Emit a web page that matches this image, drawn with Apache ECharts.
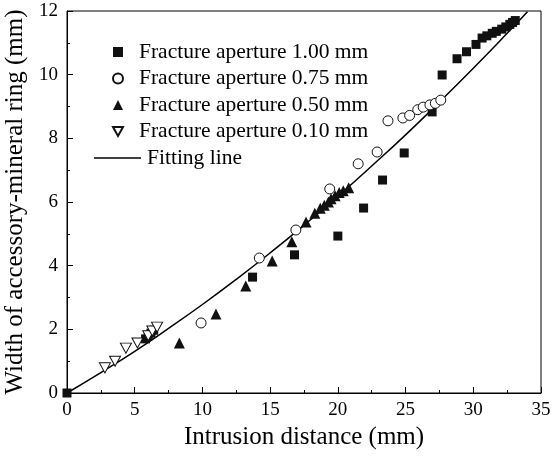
<!DOCTYPE html>
<html>
<head>
<meta charset="utf-8">
<script src="https://cdn.jsdelivr.net/npm/echarts@6/dist/echarts.min.js"></script>
<style>html,body{margin:0;padding:0;background:#fff;}#c{width:553px;height:457px;}</style>
</head>
<body>
<div id="c"></div>
<script>
// Fracture aperture 1.00 mm
const sq = [[0,0],[5.8,1.7],[6.0,1.8],[6.2,1.88],[6.4,1.97],[13.7,3.64],[16.8,4.34],[20.0,4.93],[21.9,5.81],[23.3,6.69],[24.9,7.54],[26.96,8.83],[27.7,9.99],[28.8,10.5],[29.5,10.72],[30.2,10.95],[30.65,11.15],[31.0,11.22],[31.4,11.3],[31.7,11.36],[32.1,11.43],[32.4,11.5],[32.7,11.58],[32.9,11.64],[33.1,11.7]];
// Fracture aperture 0.75 mm
const circ = [[9.9,2.2],[14.2,4.24],[16.9,5.12],[19.4,6.41],[21.5,7.2],[22.9,7.57],[23.7,8.55],[24.8,8.64],[25.3,8.72],[25.9,8.9],[26.3,8.98],[26.8,9.05],[27.2,9.1],[27.6,9.2]];
// Fracture aperture 0.50 mm
const tri = [[8.3,1.57],[11.0,2.48],[13.2,3.36],[15.15,4.15],[16.6,4.75],[17.65,5.37],[18.3,5.65],[18.7,5.8],[19.0,5.9],[19.3,6.0],[19.5,6.1],[19.8,6.2],[20.1,6.3],[20.4,6.35],[20.8,6.45]];
// Fracture aperture 0.10 mm
const itri = [[2.8,0.79],[3.55,1.0],[4.35,1.41],[5.2,1.57],[6.0,1.8],[6.3,1.95],[6.65,2.07]];
// Fitting line
const fitX = [0,2.5,5,7.5,10,12.5,15,17.5,20,22.5,25,27.5,30,32.5,34];
const fitY = [0,0.64,1.31,2.03,2.78,3.57,4.40,5.27,6.18,7.13,8.11,9.14,10.20,11.30,11.98];
const xTicks = [0,5,10,15,20,25,30,35];
const yTicks = [0,2,4,6,8,10,12];
const names = ['Fracture aperture 1.00 mm','Fracture aperture 0.75 mm','Fracture aperture 0.50 mm','Fracture aperture 0.10 mm','Fitting line'];

const font = 'Liberation Serif';
const invTri = 'path://M0,0L10,0L5,9Z';
const chart = echarts.init(document.getElementById('c'), null, {renderer:'canvas'});
const axisCommon = {
  axisLine:{show:true,onZero:false,lineStyle:{color:'#000',width:1}},
  axisTick:{show:true,inside:true,length:6,lineStyle:{color:'#000'}},
  minorTick:{show:true,splitNumber:2,length:3,lineStyle:{color:'#000'}},
  splitLine:{show:false},
  axisLabel:{color:'#000',fontFamily:font,fontSize:19}
};
const legendText = {fontFamily:font,fontSize:21.5,lineHeight:22,color:'#000'};
chart.setOption({
  animation:false,
  backgroundColor:'#fff',
  grid:{left:67,right:12,top:11,bottom:64,show:true,borderColor:'#000',borderWidth:1,containLabel:false,outerBoundsMode:'none'},
  legend:[
    {orient:'vertical',left:107,top:36,itemWidth:10,itemHeight:10,itemGap:4.5,
     textStyle:Object.assign({},legendText,{padding:[0,0,0,11]}),
     data:names.slice(0,4)},
    {orient:'vertical',left:89,top:142,itemWidth:47,itemHeight:1.5,icon:'rect',
     textStyle:Object.assign({},legendText,{padding:[0,0,0,1]}),
     data:[names[4]]}
  ],
  xAxis:Object.assign({},axisCommon,{
    type:'value',min:0,max:35,interval:5,
    name:'Intrusion distance (mm)',nameLocation:'middle',nameGap:32,
    nameTextStyle:{fontFamily:font,fontSize:25,color:'#000'},
    axisLabel:Object.assign({},axisCommon.axisLabel,{margin:8,formatter:v=>xTicks.includes(v)?String(v):''})
  }),
  yAxis:Object.assign({},axisCommon,{
    type:'value',min:0,max:12,interval:2,
    name:'Width of accessory-mineral ring (mm)',nameLocation:'middle',nameGap:32,
    nameTextStyle:{fontFamily:font,fontSize:25,color:'#000'},
    axisLabel:Object.assign({},axisCommon.axisLabel,{margin:9,formatter:v=>yTicks.includes(v)?String(v):''})
  }),
  series:[
    {name:names[0],type:'scatter',data:sq,symbol:'rect',symbolSize:9,itemStyle:{color:'#111',opacity:1},z:3},
    {name:names[1],type:'scatter',data:circ,symbol:'circle',symbolSize:10,itemStyle:{color:'#fff',borderColor:'#111',borderWidth:1,opacity:1},z:4},
    {name:names[2],type:'scatter',data:tri,symbol:'triangle',symbolSize:11,itemStyle:{color:'#111',opacity:1},z:3},
    {name:names[3],type:'scatter',data:itri,symbol:invTri,symbolSize:[11,10],itemStyle:{color:'#fff',borderColor:'#111',borderWidth:1,opacity:1},z:4},
    {name:names[4],type:'line',data:fitX.map((x,i)=>[x,fitY[i]]),smooth:true,symbol:'none',lineStyle:{color:'#000',width:1.5},itemStyle:{color:'#000'},z:2}
  ]
});
</script>
</body>
</html>
